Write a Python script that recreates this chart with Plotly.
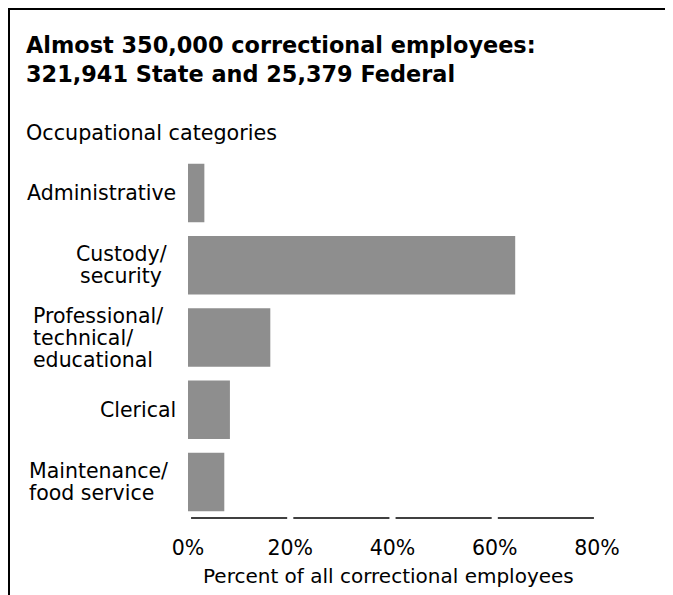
import plotly.graph_objects as go

# ---- data ----
categories = [
    "Administrative",
    "Custody/<br>security",
    "Professional/<br>technical/<br>educational",
    "Clerical",
    "Maintenance/<br>food service",
]
percent_values = [3.2, 64.0, 16.1, 8.2, 7.1]
tick_values = [0, 20, 40, 60, 80]
tick_labels = ["0%", "20%", "40%", "60%", "80%"]

title_text = "Almost 350,000 correctional employees:<br>321,941 State and 25,379 Federal"
subtitle_text = "Occupational categories"
xaxis_text = "Percent of all correctional employees"

# ---- layout geometry (pixels) ----
FIG_W, FIG_H = 673, 595
PAGE_OFF = 8  # page body margin in the browser
ML, MR, MT, MB = 180, 84, 149, 85
PW = FIG_W - ML - MR
PH = FIG_H - MT - MB


def xp(sx):
    """screen x pixel -> paper x"""
    return (sx - PAGE_OFF - ML) / PW


def yp(sy):
    """screen y pixel -> paper y"""
    return (FIG_H - MB - (sy - PAGE_OFF)) / PH


FONT = "DejaVu Sans"
BAR_COLOR = "#8e8e8e"

fig = go.Figure()
fig.add_trace(
    go.Bar(
        x=percent_values,
        y=categories,
        orientation="h",
        marker=dict(color=BAR_COLOR, line=dict(width=0)),
        hoverinfo="skip",
    )
)

# category label placement style: (anchor, screen x)
label_style = [
    ("right", 177),
    ("center", 121),
    ("left", 32),
    ("right", 177),
    ("left", 28),
]
LINE_STEP = 22
annotations = []
for cat, (anchor, sx) in zip(categories, label_style):
    lines = cat.split("<br>")
    n = len(lines)
    for i, ln in enumerate(lines):
        annotations.append(
            dict(
                text=ln,
                x=xp(sx),
                xref="paper",
                y=cat,
                yref="y",
                xanchor=anchor,
                yanchor="middle",
                yshift=-(i - (n - 1) / 2) * LINE_STEP,
                showarrow=False,
                borderpad=0,
                font=dict(family=FONT, size=20.5, color="black"),
            )
        )

annotations.append(
    dict(
        text="<b>" + title_text.replace("<br>", "</b><br><b>") + "</b>",
        x=xp(25), xref="paper", y=yp(31), yref="paper",
        xanchor="left", yanchor="top", align="left", showarrow=False, borderpad=0,
        font=dict(family=FONT, size=22.4, color="black"),
    )
)
annotations.append(
    dict(
        text=subtitle_text,
        x=xp(25), xref="paper", y=yp(120), yref="paper",
        xanchor="left", yanchor="top", showarrow=False, borderpad=0,
        font=dict(family=FONT, size=20.7, color="black"),
    )
)
annotations.append(
    dict(
        text=xaxis_text,
        x=xp(388), xref="paper", y=yp(563), yref="paper",
        xanchor="center", yanchor="top", showarrow=False, borderpad=0,
        font=dict(family=FONT, size=20, color="black"),
    )
)

# segmented baseline between ticks
shapes = []
GAP = 0.6
for a, b in zip(tick_values[:-1], tick_values[1:]):
    shapes.append(
        dict(type="line", xref="x", yref="paper", x0=a + GAP, x1=b - GAP,
             y0=0, y1=0, line=dict(color="black", width=1.5))
    )
# frame lines (top and left)
shapes.append(dict(type="line", xref="paper", yref="paper", x0=xp(8), x1=xp(FIG_W + PAGE_OFF),
                   y0=yp(9), y1=yp(9), line=dict(color="black", width=2)))
shapes.append(dict(type="line", xref="paper", yref="paper", x0=xp(9), x1=xp(9),
                   y0=yp(8), y1=yp(FIG_H + PAGE_OFF), line=dict(color="black", width=2)))

fig.update_layout(
    width=FIG_W,
    height=FIG_H,
    margin=dict(l=ML, r=MR, t=MT, b=MB, pad=0),
    paper_bgcolor="white",
    plot_bgcolor="white",
    showlegend=False,
    bargap=0.19,
    annotations=annotations,
    shapes=shapes,
    xaxis=dict(
        range=[0, 80],
        tickvals=tick_values,
        ticktext=tick_labels,
        ticks="",
        showgrid=False,
        zeroline=False,
        showline=False,
        ticklabelstandoff=15,
        tickfont=dict(family=FONT, size=20.5, color="black"),
        fixedrange=True,
    ),
    yaxis=dict(
        categoryorder="array",
        categoryarray=categories,
        autorange="reversed",
        showticklabels=False,
        ticks="",
        showgrid=False,
        zeroline=False,
        showline=False,
        fixedrange=True,
    ),
)

fig.write_html("out.html", config={"displayModeBar": False})
